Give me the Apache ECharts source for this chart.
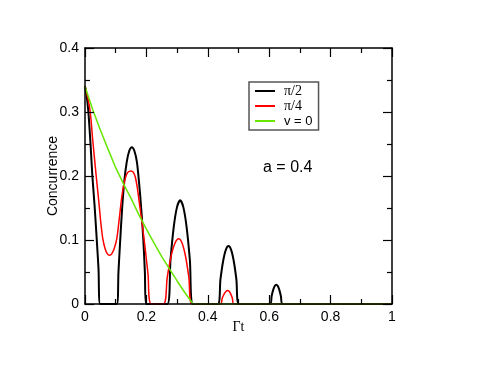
<!DOCTYPE html>
<html>
<head>
<meta charset="utf-8">
<script src="https://cdn.jsdelivr.net/npm/echarts@6/dist/echarts.min.js"></script>
<style>
  html, body { margin: 0; padding: 0; background: #fff; }
  #chart { width: 487px; height: 368px; }
</style>
</head>
<body>
<div id="chart"></div>
<script>
// values (Γt, concurrence)
const seriesNames = ['π/2', 'π/4', 'v = 0']
const xTickLabels = ['0', '0.2', '0.4', '0.6', '0.8', '1']
const yTickLabels = ['0', '0.1', '0.2', '0.3', '0.4']

const blackT = [0, 0.005, 0.011, 0.018, 0.024, 0.031, 0.0385, 0.044, 0.0495,
  0.1036, 0.109, 0.1146, 0.121, 0.128, 0.136, 0.144, 0.1525, 0.161, 0.169, 0.176, 0.183, 0.19, 0.195, 0.199,
  0.268, 0.2785, 0.289, 0.2995, 0.31, 0.3205, 0.331, 0.3415, 0.352,
  0.4326, 0.4413, 0.45, 0.4587, 0.4674, 0.476, 0.4845, 0.493, 0.5015,
  0.603, 0.608, 0.613, 0.618, 0.623, 0.628, 0.633, 0.638, 0.644, 1]
const blackC = [0.34, 0.327, 0.3, 0.25, 0.2, 0.155, 0.099, 0.055, 0,
  0, 0.05, 0.099, 0.15, 0.192, 0.222, 0.239, 0.245, 0.239, 0.222, 0.19, 0.15, 0.1, 0.05, 0,
  0, 0.069, 0.12, 0.151, 0.162, 0.151, 0.12, 0.069, 0,
  0, 0.0387, 0.0672, 0.0846, 0.0905, 0.0846, 0.0672, 0.0387, 0,
  0, 0.0125, 0.022, 0.028, 0.03, 0.028, 0.022, 0.0125, 0, 0]

const redT = [0, 0.008, 0.017, 0.0254, 0.0365, 0.045, 0.052, 0.058, 0.065, 0.072, 0.08, 0.088, 0.096,
  0.1036, 0.112, 0.12, 0.128, 0.136, 0.143, 0.15, 0.157, 0.164, 0.17, 0.177, 0.185, 0.194, 0.205, 0.2157,
  0.2557, 0.268, 0.2806, 0.293, 0.3055, 0.3164, 0.3273, 0.3382, 0.349,
  0.441, 0.447, 0.453, 0.459, 0.465, 0.47, 0.475, 0.48, 0.485, 1]
const redC = [0.34, 0.325, 0.3, 0.255, 0.2, 0.16, 0.125, 0.102, 0.087, 0.079, 0.076, 0.079, 0.088,
  0.102, 0.135, 0.168, 0.19, 0.203, 0.207, 0.208, 0.206, 0.198, 0.183, 0.158, 0.13, 0.095, 0.048, 0,
  0, 0.042, 0.075, 0.095, 0.102, 0.095, 0.075, 0.042, 0,
  0, 0.009, 0.0155, 0.0196, 0.021, 0.0196, 0.0155, 0.009, 0, 0]

const greenT = [0, 0.025, 0.05, 0.075, 0.1, 0.125, 0.15, 0.175, 0.2, 0.225, 0.25, 0.275, 0.3, 0.325, 0.352, 1]
const greenC = [0.34, 0.304, 0.272, 0.242, 0.213, 0.188, 0.165, 0.14, 0.117, 0.095, 0.074, 0.055, 0.036, 0.018, 0, 0]

const zip = (xs, ys) => xs.map((x, i) => [x, ys[i]])

const sansFont = '"Liberation Sans", Arial, Helvetica, sans-serif'
const serifFont = '"Liberation Serif", "Times New Roman", serif'

const chart = echarts.init(document.getElementById('chart'))

// shared style of the frame axes (ticks pointing inward)
function frameAxis(extra) {
  return Object.assign({
    type: 'value',
    z: 5,
    nameMoveOverlap: false,
    axisLine: { show: true, onZero: false, lineStyle: { color: '#000', width: 1.5 } },
    axisTick: { show: true, inside: true, length: 9, lineStyle: { color: '#000', width: 1.2 } },
    minorTick: { show: true, splitNumber: 2, length: 5, lineStyle: { color: '#000', width: 1.2 } },
    splitLine: { show: false },
    minorSplitLine: { show: false }
  }, extra)
}

const option = {
  animation: false,
  backgroundColor: '#fff',
  grid: { left: 85, right: 95, top: 48, bottom: 64 },
  xAxis: [
    frameAxis({
      min: 0, max: 1, interval: 0.2, position: 'bottom',
      name: 'Γt', nameLocation: 'middle', nameGap: 16,
      nameTextStyle: { fontFamily: serifFont, fontSize: 14, color: '#000' },
      axisLabel: {
        margin: 6, fontSize: 14, color: '#000', fontFamily: sansFont,
        formatter: (v) => xTickLabels[Math.round(v / 0.2)]
      }
    }),
    frameAxis({ min: 0, max: 1, interval: 0.2, position: 'top', axisLabel: { show: false } })
  ],
  yAxis: [
    frameAxis({
      min: 0, max: 0.4, interval: 0.1, position: 'left',
      name: 'Concurrence', nameLocation: 'middle', nameGap: 25,
      nameTextStyle: { fontFamily: sansFont, fontSize: 14, color: '#000' },
      axisLabel: {
        margin: 6, fontSize: 14, color: '#000', fontFamily: sansFont,
        formatter: (v) => yTickLabels[Math.round(v / 0.1)]
      }
    }),
    frameAxis({ min: 0, max: 0.4, interval: 0.1, position: 'right', axisLabel: { show: false } })
  ],
  legend: {
    orient: 'vertical',
    left: 249, top: 82,
    padding: [2, 6, 2, 6],
    itemGap: 1,
    itemWidth: 20, itemHeight: 2,
    icon: 'rect',
    borderColor: '#555', borderWidth: 1.5,
    backgroundColor: '#fff',
    data: seriesNames,
    formatter: (name) => name.startsWith('π') ? '{s|' + name + '}' : name,
    textStyle: {
      fontFamily: sansFont, fontSize: 13, color: '#000', lineHeight: 14,
      padding: [0, 0, 0, 4],
      rich: { s: { fontFamily: serifFont, fontSize: 14, lineHeight: 14 } }
    }
  },
  graphic: [{
    type: 'text', left: 263, top: 160,
    style: { text: 'a = 0.4', font: '16px ' + sansFont, fill: '#000' }
  }],
  series: [
    { name: seriesNames[0], type: 'line', data: zip(blackT, blackC), showSymbol: false, smooth: 0.3,
      color: '#000', lineStyle: { width: 2, color: '#000' } },
    { name: seriesNames[1], type: 'line', data: zip(redT, redC), showSymbol: false, smooth: 0.3,
      color: '#ff0000', lineStyle: { width: 1.5, color: '#ff0000' } },
    { name: seriesNames[2], type: 'line', data: zip(greenT, greenC), showSymbol: false,
      color: '#66e600', lineStyle: { width: 1.5, color: '#66e600' } }
  ]
}

chart.setOption(option)
</script>
</body>
</html>
